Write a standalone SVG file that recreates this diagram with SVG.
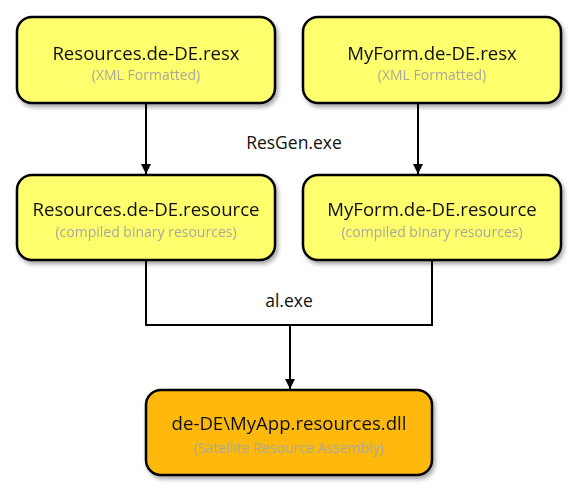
<svg xmlns="http://www.w3.org/2000/svg" width="580" height="488" viewBox="0 0 580 488">
<style>
.box{stroke:#000;stroke-width:2.5}
.y{fill:#FFFF6E}
.o{fill:#FFB90F}
.t{font-family:"Open Sans","Liberation Sans",sans-serif;font-size:18.6px;fill:#111;text-anchor:middle}
.s{font-family:"Open Sans","Liberation Sans",sans-serif;font-size:14px;fill:#A8A89A;text-anchor:middle}
.lbl{font-family:"Open Sans","Liberation Sans",sans-serif;font-size:17.5px;fill:#111;text-anchor:middle}
.c{fill:none;stroke:#000;stroke-width:2}
</style>
<defs>
<marker id="ah" viewBox="0 0 10 10" refX="10" refY="5" markerWidth="5" markerHeight="5" orient="auto" markerUnits="strokeWidth">
<path d="M0,0 L10,5 L0,10 z" fill="#000"/>
</marker>
<filter id="sh" x="-10%" y="-10%" width="125%" height="130%">
<feGaussianBlur in="SourceAlpha" stdDeviation="2"/>
<feOffset dx="2" dy="3"/>
<feComponentTransfer><feFuncA type="linear" slope="0.35"/></feComponentTransfer>
<feMerge><feMergeNode/><feMergeNode in="SourceGraphic"/></feMerge>
</filter>
</defs>
<rect width="580" height="488" fill="#fff"/>
<g id="connectors">
<line class="c" x1="146" y1="104" x2="146" y2="174" marker-end="url(#ah)"/>
<line class="c" x1="418" y1="104" x2="418" y2="174" marker-end="url(#ah)"/>
<polyline class="c" points="146,261 146,325 432,325 432,261"/>
<line class="c" x1="290" y1="325" x2="290" y2="389" marker-end="url(#ah)"/>
<text class="lbl" x="294" y="149">ResGen.exe</text>
<text class="lbl" x="289" y="307">al.exe</text>
</g>
<g id="n1" filter="url(#sh)">
<rect class="box y" x="17" y="17" width="258" height="86" rx="15"/>
<text class="t" x="146" y="60">Resources.de-DE.resx</text>
<text class="s" x="146" y="80">(XML Formatted)</text>
</g>
<g id="n2" filter="url(#sh)">
<rect class="box y" x="303" y="17" width="258" height="86" rx="15"/>
<text class="t" x="432" y="60">MyForm.de-DE.resx</text>
<text class="s" x="432" y="80">(XML Formatted)</text>
</g>
<g id="n3" filter="url(#sh)">
<rect class="box y" x="17" y="175" width="258" height="85" rx="15"/>
<text class="t" x="146" y="216">Resources.de-DE.resource</text>
<text class="s" x="146" y="237">(compiled binary resources)</text>
</g>
<g id="n4" filter="url(#sh)">
<rect class="box y" x="303" y="175" width="258" height="85" rx="15"/>
<text class="t" x="432" y="216">MyForm.de-DE.resource</text>
<text class="s" x="432" y="237">(compiled binary resources)</text>
</g>
<g id="n5" filter="url(#sh)">
<rect class="box o" x="146" y="390" width="286" height="85" rx="15"/>
<text class="t" x="289" y="430">de-DE\MyApp.resources.dll</text>
<text class="s" x="289" y="453">(Satellite Resource Assembly)</text>
</g>
</svg>
